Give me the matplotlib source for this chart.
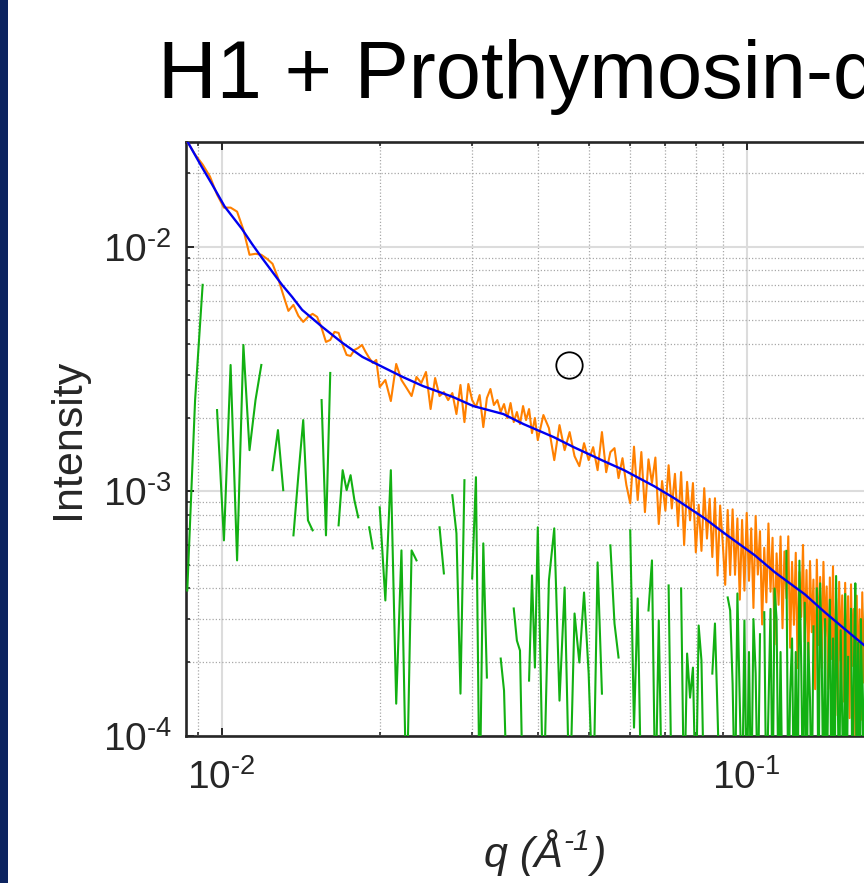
import numpy as np
import matplotlib
matplotlib.use("Agg")
import matplotlib.pyplot as plt
from matplotlib.patches import Rectangle
from matplotlib.ticker import FixedLocator, FixedFormatter, NullFormatter

plt.rcParams['font.family'] = ['Liberation Sans', 'DejaVu Sans']
plt.rcParams['mathtext.fontset'] = 'custom'
plt.rcParams['mathtext.rm'] = 'Liberation Sans'
plt.rcParams['mathtext.it'] = 'Liberation Sans:italic'
plt.rcParams['mathtext.bf'] = 'Liberation Sans:bold'

# ---------------- data ----------------
title_text = "H1 + Prothymosin-α"
xlabel_main = "q (Å"
xlabel_sup = "\u20101"
xlabel_end = ")"
ylabel_text = "Intensity"

q_data = [
    0.0086, 0.0089, 0.0092, 0.0095, 0.0098, 0.0101, 0.0104, 0.0107, 0.0110, 0.0113,
    0.0116, 0.0119, 0.0122, 0.0125, 0.0128, 0.0131, 0.0134, 0.0137, 0.0140, 0.0143,
    0.0146, 0.0149, 0.0152, 0.0155, 0.0158, 0.0161, 0.0164, 0.0167, 0.0170, 0.0173,
    0.0176, 0.0179, 0.0182, 0.0185, 0.0188, 0.0191, 0.0194, 0.0197,
    0.0200, 0.0205, 0.0210, 0.0215, 0.0220, 0.0225, 0.0230, 0.0235, 0.0240, 0.0245,
    0.0250, 0.0255, 0.0260, 0.0265, 0.0270, 0.0275, 0.0280, 0.0285, 0.0290, 0.0295,
    0.0300, 0.0305, 0.0310, 0.0315, 0.0320, 0.0325, 0.0330, 0.0335, 0.0340, 0.0345,
    0.0350, 0.0355, 0.0360, 0.0365, 0.0370, 0.0375, 0.0380, 0.0385, 0.0390, 0.0395,
    0.040, 0.041, 0.042, 0.043, 0.044, 0.045, 0.046, 0.047, 0.048, 0.049,
    0.050, 0.051, 0.052, 0.053, 0.054, 0.055, 0.056, 0.057, 0.058, 0.059,
    0.060, 0.061, 0.062, 0.063, 0.064, 0.065, 0.066, 0.067, 0.068, 0.069,
    0.070, 0.071, 0.072, 0.073, 0.074, 0.075, 0.076, 0.077, 0.078, 0.079,
    0.080, 0.081, 0.082, 0.083, 0.084, 0.085, 0.086, 0.087, 0.088, 0.089,
    0.090, 0.091, 0.092, 0.093, 0.094, 0.095, 0.096, 0.097, 0.098, 0.099,
    0.100, 0.101, 0.102, 0.103, 0.104, 0.105, 0.106, 0.107, 0.108, 0.109,
    0.110, 0.111, 0.112, 0.113, 0.114, 0.115, 0.116, 0.117, 0.118, 0.119,
    0.120, 0.121, 0.122, 0.123, 0.124, 0.125, 0.126, 0.127, 0.128, 0.129,
    0.130, 0.131, 0.132, 0.133, 0.134, 0.135, 0.136, 0.137, 0.138, 0.139,
    0.140, 0.141, 0.142, 0.143, 0.144, 0.145, 0.146, 0.147, 0.148, 0.149,
    0.150, 0.151, 0.152, 0.153, 0.154, 0.155, 0.156, 0.157, 0.158, 0.159,
    0.160, 0.161, 0.162, 0.163, 0.164, 0.165, 0.166, 0.167, 0.168, 0.169,
    0.170, 0.171, 0.172, 0.173, 0.174,
]

# measured intensity (orange)
intensity_data = [
    0.02693, 0.02382, 0.02168, 0.01936, 0.01634, 0.01445, 0.01445, 0.01391, 0.01174, 0.009266,
    0.009354, 0.009266, 0.008923, 0.008512, 0.007458, 0.006354, 0.005463, 0.005782, 0.005212, 0.004925,
    0.005163, 0.005312, 0.005163, 0.004654, 0.004078, 0.004156, 0.004482, 0.004440, 0.003964, 0.003608,
    0.003574, 0.003782, 0.003853, 0.003964, 0.003711, 0.003507, 0.003346, 0.003441,
    0.002668, 0.002850, 0.002337, 0.003314, 0.002850, 0.002643, 0.002450, 0.002932, 0.002771, 0.003073,
    0.002168, 0.002904, 0.002450, 0.002544, 0.002359, 0.002520, 0.002068, 0.002719, 0.001917, 0.002744,
    0.002359, 0.002209, 0.002473, 0.001829, 0.002404, 0.002618, 0.002251, 0.002359, 0.002108, 0.002272,
    0.001992, 0.002294, 0.001917, 0.002108, 0.001881, 0.002230, 0.001954, 0.002168, 0.001729, 0.001992,
    0.001618, 0.002049, 0.001812, 0.001340, 0.001864, 0.001472, 0.001745, 0.001391, 0.001266, 0.001572,
    0.001340, 0.001514, 0.001219, 0.001745, 0.001196, 0.001445, 0.001500, 0.001131, 0.001365, 0.001058,
    0.000893, 0.001521, 0.000920, 0.001446, 0.000821, 0.001350, 0.001080, 0.001373, 0.000734, 0.001100,
    0.000833, 0.001277, 0.000850, 0.001178, 0.000720, 0.001197, 0.000602, 0.001092, 0.000760, 0.001080,
    0.000562, 0.000880, 0.000570, 0.001029, 0.000640, 0.000931, 0.000538, 0.000936, 0.000452, 0.000874,
    0.000620, 0.000414, 0.000838, 0.000454, 0.000843, 0.000455, 0.000774, 0.000360, 0.000763, 0.000392,
    0.000815, 0.000430, 0.000705, 0.000333, 0.000792, 0.000456, 0.000686, 0.000285, 0.000587, 0.000351,
    0.000738, 0.000388, 0.000645, 0.000236, 0.000557, 0.000343, 0.000653, 0.000275, 0.000567, 0.000365,
    0.000654, 0.000229, 0.000514, 0.000284, 0.000560, 0.000189, 0.000467, 0.000306, 0.000603, 0.000242,
    0.000476, 0.000188, 0.000518, 0.000265, 0.000435, 0.000155, 0.000525, 0.000235, 0.000446, 0.000189,
    0.000514, 0.000254, 0.000408, 0.000155, 0.000444, 0.000206, 0.000493, 0.000162, 0.000364, 0.000121,
    0.000426, 0.000202, 0.000375, 0.000138, 0.000422, 0.000167, 0.000372, 0.000118, 0.000416, 0.000193,
    0.000330, 0.000100, 0.000374, 0.000148, 0.000329, 0.000116, 0.000386, 0.000165, 0.000326, 0.000104,
    0.000353, 0.000131, 0.000291, 0.000093, 0.000329,
]

nan = np.nan
# residual-like trace (green); nan = not positive (not drawn on a log axis)
residual_data = [
    0.0003927, 0.002359, 0.006983, nan, 0.002147, 0.0006294, 0.003283, 0.0005212, 0.003964, 0.001472,
    0.002359, 0.003283, nan, 0.001219, 0.001778, 0.001010, nan, 0.0006598, 0.001163, 0.001954,
    0.0007600, 0.0006917, nan, 0.002359, 0.0006598, 0.003045, nan, 0.0007250, 0.001219, 0.001010,
    0.001163, 0.0009179, 0.0007819, nan, nan, 0.0007116, 0.0005836, nan,
    0.0008594, 0.0003574, 0.001219, 0.0001352, 0.0005727, 5e-5, 0.0005727, 0.0005212, nan, nan,
    nan, nan, 0.0007116, 0.0004610, nan, 0.0009630, 0.0006724, 0.0001486, 0.001109, nan,
    0.0004398, 0.001141, 5e-5, 0.0006119, 0.0001729, nan, nan, nan, 0.0002068, 0.0001528,
    5e-5, nan, 0.0003314, 0.0002450, 0.0002230, 5e-5, nan, 0.0001680, 0.0004524, 0.0001899,
    0.0007116, 5e-5, 0.0004316, 0.0007049, 0.0001391, 0.0004040, 5e-5, 0.0003161, 0.0001992, 0.0003853,
    0.0001795, 5e-5, 0.0005115, 0.0001486, nan, 0.0006004, 0.0002877, 0.0002088, nan, nan,
    0.0006917, 0.0001079, 0.0003642, 5e-5, nan, 0.0003252, 0.0005212, 5e-5, 0.0002959, 5e-5,
    nan, 0.0004117, 5e-5, nan, nan, 0.0004002, 5e-5, 0.0002168, 0.0001431, 0.0001899,
    5e-5, 0.0002823, 0.0002030, 5e-5, nan, nan, 0.0001795, 0.0002877, 0.0001231, 5e-5,
    nan, nan, 0.0003677, 0.0003252, 0.0001634, 5e-5, 0.0003818, 0.0001391, 5e-5, 0.0002959,
    5e-5, 0.00022, 5e-5, 0.00030, 0.00018, 5e-5, 0.00026, nan, 0.00032, 5e-5,
    0.00013, 0.00033, 5e-5, 0.00040, 0.00030, 5e-5, 0.00022, 5e-5, nan, 0.00057,
    5e-5, 0.00015, 0.00025, 5e-5, 0.00022, 5e-5, 0.00052, 0.00020, 5e-5, 0.00035,
    5e-5, 0.00024, 0.00014, 5e-5, 0.00028, nan, 0.00040, 5e-5, 0.00042, 0.00020,
    5e-5, 0.00030, 5e-5, 0.00017, 0.00036, 5e-5, 0.00025, 5e-5, 0.00045, 0.00016,
    5e-5, 0.00027, 0.00012, 5e-5, 0.00038, 5e-5, 0.00021, nan, 0.00033, 5e-5,
    0.00019, 0.00042, 5e-5, 0.00024, 5e-5, 0.00030, 0.00014, 5e-5, 0.00035, 5e-5,
    0.00026, 0.00017, 5e-5, 0.00031, 5e-5,
]

# model fit (blue)
fit_q = [0.008606, 0.009156, 0.009569, 0.010133, 0.010922, 0.011415, 0.011930, 0.013030, 0.013618,
         0.014232, 0.015544, 0.016978, 0.018543, 0.020253, 0.022128, 0.024163, 0.027585, 0.030124,
         0.034391, 0.037560, 0.042874, 0.046832, 0.053460, 0.058398, 0.066654, 0.072797, 0.083104,
         0.090757, 0.10359, 0.11315, 0.12915, 0.14106, 0.15405, 0.17127, 0.19000]
fit_intensity = [0.02693, 0.02128, 0.01812, 0.01459, 0.01185, 0.01029, 0.009007, 0.006983, 0.006235,
                 0.005516, 0.004699, 0.004043, 0.003541, 0.003222, 0.002932, 0.002693, 0.002428, 0.002231,
                 0.002068, 0.001882, 0.001665, 0.001514, 0.001327, 0.001219, 0.001048, 0.000936, 0.000775,
                 0.000672, 0.000547, 0.000466, 0.000378, 0.000319, 0.000272, 0.000225, 0.000188]

marker_q = [0.04587]
marker_intensity = [0.003282]

x_major = [0.01, 0.1]
x_major_labels = ["$10^{\u20102}$", "$10^{\u20101}$"]
y_major = [1e-4, 1e-3, 1e-2]
y_major_labels = ["$10^{\u20104}$", "$10^{\u20103}$", "$10^{\u20102}$"]

# ---------------- figure ----------------
W, H = 864, 883
fig = plt.figure(figsize=(W / 100, H / 100), dpi=100)
fig.patches.append(Rectangle((0, 0), 8 / W, 1, transform=fig.transFigure,
                             facecolor="#0c2460", edgecolor="none", zorder=10))

ax_left, ax_right, ax_top, ax_bottom = 185.7, 903.0, 141.7, 735.7
ax = fig.add_axes([ax_left / W, (H - ax_bottom) / H, (ax_right - ax_left) / W, (ax_bottom - ax_top) / H])
ax.set_xscale("log")
ax.set_yscale("log")
ax.set_xlim(0.008541, 0.19846)
ax.set_ylim(1e-4, 0.02688)

ax.plot(q_data, intensity_data, color="#ff8000", lw=1.5, zorder=3)
ax.plot(q_data, residual_data, color="#12b012", lw=1.5, zorder=4)
ax.plot(fit_q, fit_intensity, color="#0000f0", lw=1.7, zorder=5)
ax.plot(marker_q, marker_intensity, "o", ms=19, mfc="none", mec="black", mew=1.3, zorder=6)

# ticks
x_minor = [m * 10.0 ** e for e in (-3, -2, -1) for m in range(2, 10)]
y_minor = [m * 10.0 ** e for e in (-5, -4, -3, -2) for m in range(2, 10)]
ax.xaxis.set_major_locator(FixedLocator(x_major))
ax.xaxis.set_major_formatter(FixedFormatter(x_major_labels))
ax.xaxis.set_minor_locator(FixedLocator(x_minor))
ax.xaxis.set_minor_formatter(NullFormatter())
ax.yaxis.set_major_locator(FixedLocator(y_major))
ax.yaxis.set_major_formatter(FixedFormatter(y_major_labels))
ax.yaxis.set_minor_locator(FixedLocator(y_minor))
ax.yaxis.set_minor_formatter(NullFormatter())

dark = "#262626"
ax.tick_params(which="both", direction="in", top=True, right=True, color=dark, labelcolor=dark)
ax.tick_params(which="major", length=5.5, width=1.4, labelsize=28)
ax.tick_params(which="minor", length=3.2, width=1.2)
ax.tick_params(axis="x", which="major", pad=17)
ax.tick_params(axis="y", which="major", pad=10)
for s in ax.spines.values():
    s.set_color(dark)
    s.set_linewidth(1.9)

ax.set_axisbelow(True)
ax.grid(which="major", color="#dcdcdc", lw=1.5, ls="-")
ax.grid(which="minor", color="#a8a8a8", lw=0.9, ls=(0, (1, 1.6)))

# texts
fig.text(158 / W, 1 - 98 / H, title_text, fontsize=58.5, color="black", ha="left", va="baseline")
fig.text(68 / W, 1 - 438.7 / H, ylabel_text, fontsize=31, color=dark, rotation=90,
         ha="center", va="center")

# x label built from italic pieces (q (Å, superscript -1, ")")
fs = 31
renderer = fig.canvas.get_renderer()
base_y = 883 - 867.0          # baseline in pixels from bottom
t1 = fig.text(0, 0, xlabel_main, fontsize=fs, style="italic", color=dark,
              ha="left", va="baseline", transform=None)
t2 = fig.text(0, 0, xlabel_sup, fontsize=fs * 0.7, style="italic", color=dark,
              ha="left", va="baseline", transform=None)
t3 = fig.text(0, 0, xlabel_end, fontsize=fs, style="italic", color=dark,
              ha="left", va="baseline", transform=None)
w1 = t1.get_window_extent(renderer).width
w2 = t2.get_window_extent(renderer).width
w3 = t3.get_window_extent(renderer).width
total = w1 + w2 + w3 + 2
x0 = 545 - total / 2
t1.set_position((x0, base_y))
t2.set_position((x0 + w1 + 1, base_y + 17))
t3.set_position((x0 + w1 + w2 + 2, base_y))

fig.savefig("out.png", dpi=100)
